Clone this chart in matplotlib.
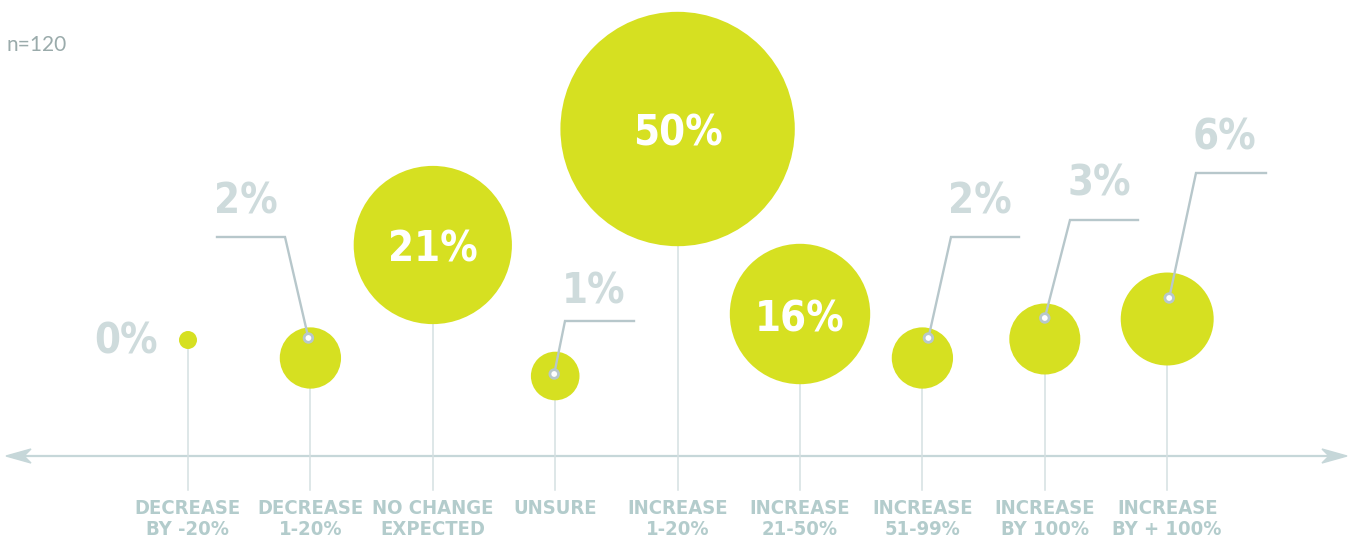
import matplotlib.pyplot as plt
from matplotlib.patches import Circle, Polygon

# data
categories = ['DECREASE\nBY -20%', 'DECREASE\n1-20%', 'NO CHANGE\nEXPECTED', 'UNSURE',
              'INCREASE\n1-20%', 'INCREASE\n21-50%', 'INCREASE\n51-99%',
              'INCREASE\nBY 100%', 'INCREASE\nBY + 100%']
values = [0, 2, 21, 1, 50, 16, 2, 3, 6]
n_label = 'n=120'

# layout (pixels, figure is 1349x538)
x0, step = 188, 122.4
axis_y = 456
stem_bottom = 490
bubble_cy = [340, 358, 245, 376, 129, 314, 358, 339, 319]
# callouts for the small bubbles: index -> (elbow x, elbow y, line end x, dot dx, dot dy, text gap)
callouts = {
    1: (285, 237, 217, -2, -20, 15),
    3: (565, 321, 634, -1, -2, 8),
    6: (951, 237, 1019, 6, -20, 15),
    7: (1070, 220, 1138, 0, -21, 15),
    8: (1196, 173, 1266, 2, -21, 15),
}

bubble_col = '#d6e021'
stem_col = '#d5e0e2'
axis_col = '#c6d7d9'
lead_col = '#b7c7cb'
pct_col = '#cedbdc'
lab_col = '#b3cccc'
pct_font = dict(family='DejaVu Sans', stretch='condensed', weight='heavy')

fig = plt.figure(figsize=(13.49, 5.38), dpi=100)
ax = fig.add_axes([0, 0, 1, 1])
ax.set_xlim(0, 1349)
ax.set_ylim(538, 0)
ax.set_aspect('equal')
ax.axis('off')

# horizontal axis with arrows
ax.plot([12, 1335], [axis_y, axis_y], color=axis_col, lw=1.6, zorder=1)
ax.add_patch(Polygon([[1347, axis_y], [1322, axis_y - 7], [1329, axis_y], [1322, axis_y + 7]],
                     closed=True, color=axis_col, zorder=1))
ax.add_patch(Polygon([[6, axis_y], [31, axis_y - 7], [24, axis_y], [31, axis_y + 7]],
                     closed=True, color=axis_col, zorder=1))

for i, (cat, v) in enumerate(zip(categories, values)):
    x = x0 + i * step
    cy = bubble_cy[i]
    r = 9 + 15.3 * v ** 0.5
    ax.plot([x, x], [cy, stem_bottom], color=stem_col, lw=1.1, zorder=1)
    ax.add_patch(Circle((x, cy), r, color=bubble_col, lw=0, zorder=2))
    ax.text(x, 499, cat, ha='center', va='top', fontsize=14.5, color=lab_col,
            family='DejaVu Sans', stretch='condensed', weight='bold', linespacing=1.12)

    if v >= 16:
        ax.text(x, cy + 5, f'{v}%', ha='center', va='center', fontsize=30, color='white',
                zorder=3, **pct_font)
    elif i in callouts:
        ex, ey, lx, dx, dy, gap = callouts[i]
        ax.plot([x + dx, ex, lx], [cy + dy, ey, ey], color=lead_col, lw=1.7,
                solid_joinstyle='miter', zorder=3)
        ax.add_patch(Circle((x + dx, cy + dy), 4.3, facecolor='white', edgecolor=lead_col,
                            lw=2, zorder=4))
        ax.text(min(ex, lx) - 3, ey - gap, f'{v}%', ha='left', va='bottom', fontsize=30,
                color=pct_col, zorder=3, **pct_font)
    else:
        ax.text(x - 30, cy + 1, f'{v}%', ha='right', va='center', fontsize=30,
                color=pct_col, zorder=3, **pct_font)

ax.text(7, 45, n_label, ha='left', va='center', fontsize=15, color='#9aabab', family='Lato')

fig.savefig('out.png', dpi=100)
